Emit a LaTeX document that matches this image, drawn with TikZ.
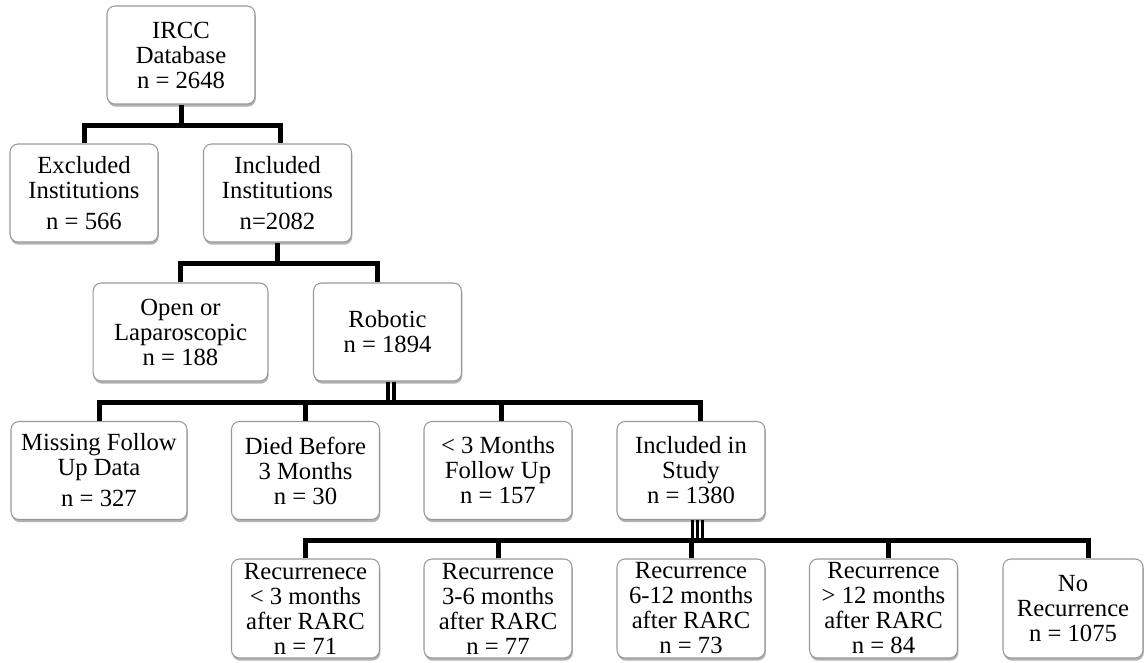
\documentclass[tikz,border=0pt]{standalone}
\usepackage{fontspec}
\setmainfont{Liberation Serif}
\usetikzlibrary{shadows}

\begin{document}
\begin{tikzpicture}[x=0.75pt,y=-0.75pt,line join=miter,
  main node/.style={rectangle,rounded corners=6pt,draw=black!40,line width=0.8pt,fill=white,
    drop shadow={shadow xshift=0.6pt,shadow yshift=-2pt,opacity=0.3,fill=black},
    align=center,inner sep=0pt,minimum width=111pt,minimum height=73.5pt,
    font=\fontsize{18.5}{18.75}\selectfont},
  bus/.style={line width=3.75pt,black}]
\useasboundingbox (0,0) rectangle (1144,662);

            \node[main node] (1) at (181,55) {IRCC\\Database\\n = 2648};
            \node[main node] (2) at (84,193) {Excluded\\Institutions\\[4.5pt]n = 566};
            \node[main node] (3) at (277.5,193) {Included\\Institutions\\[4.5pt]n=2082};
            \node[main node,minimum width=131pt] (4) at (180.5,332) {Open or\\Laparoscopic\\n = 188};
            \node[main node] (5) at (387.5,332) {Robotic\\n = 1894};
            \node[main node,minimum width=132pt] (6) at (99,470.5) {Missing Follow\\Up Data\\[4.5pt]n = 327};
            \node[main node] (7) at (305.5,470.5) {Died Before\\3 Months\\n = 30};
            \node[main node] (8) at (498,470.5) {< 3 Months\\Follow Up\\n = 157};
            \node[main node] (9) at (691,470.5) {Included in\\Study\\n = 1380};
            \node[main node,minimum height=74.25pt] (10) at (305.5,608.5) {Recurrenece\\< 3 months\\after RARC\\n = 71};
            \node[main node,minimum height=74.25pt] (11) at (498,608.5) {Recurrence\\3-6 months\\after RARC\\n = 77};
            \node[main node,minimum height=74.25pt] (12) at (691,608.5) {Recurrence\\6-12 months\\after RARC\\n = 73};
            \node[main node,minimum height=74.25pt] (13) at (883.5,608.5) {Recurrence\\> 12 months\\after RARC\\n = 84};
            \node[main node,minimum height=74.25pt,minimum width=105pt] (14) at (1073,608.5) {No\\Recurrence\\n = 1075};

            % bus levels
            \coordinate (b1) at (181,125);
            \coordinate (b2) at (278,263);
            \coordinate (b3) at (391,402);
            \coordinate (b4) at (697,540);

            \draw[bus] (1.south) -- (1.south |- b1);
            \draw[bus] (2.north) |- (b1) -| ([xshift=2pt]3.north);

            \draw[bus] (3.south) -- (3.south |- b2);
            \draw[bus] (4.north) |- (b2) -| ([xshift=-7.5pt]5.north);

            \foreach \s in {0.4pt,4.9pt}
                \draw[bus,line width=3pt] ([xshift=\s]5.south) -- ([xshift=\s]5.south |- b3);
            \draw[bus] (6.north) |- (b3) -| ([xshift=6.75pt]9.north);
            \draw[bus] (7.north) -- (7.north |- b3);
            \draw[bus] ([xshift=2.25pt]8.north) -- ([xshift=2.25pt]8.north |- b3);

            \foreach \s in {0.75pt,4.5pt,8.25pt}
                \draw[bus,line width=2.25pt] ([xshift=\s]9.south) -- ([xshift=\s]9.south |- b4);
            \draw[bus] (10.north) |- (b4) -| ([xshift=11.25pt]14.north);
            \draw[bus] (11.north) -- (11.north |- b4);
            \draw[bus] (12.north) -- (12.north |- b4);
            \draw[bus] ([xshift=3.4pt]13.north) -- ([xshift=3.4pt]13.north |- b4);
\end{tikzpicture}
\end{document}
